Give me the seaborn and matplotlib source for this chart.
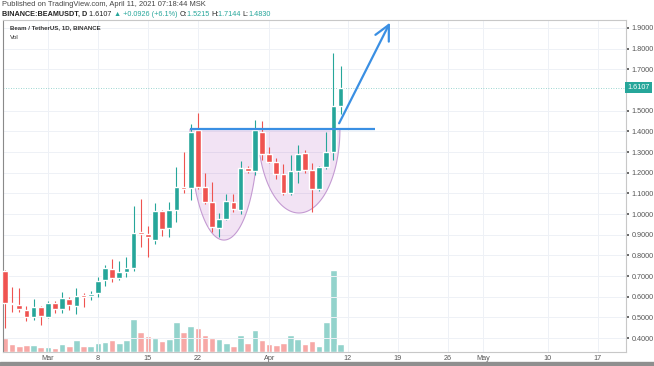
import matplotlib
matplotlib.use("Agg")
import matplotlib.pyplot as plt
import matplotlib.dates as mdates
from matplotlib.patches import Rectangle
from matplotlib.transforms import blended_transform_factory
import numpy as np
import pandas as pd
import seaborn as sns

# BEAM/USDT daily candles, 2021-02-23 .. 2021-04-11
dates = pd.date_range("2021-02-23", "2021-04-11", freq="D")
opens = [0.724, 0.565, 0.561, 0.534, 0.500, 0.549, 0.503, 0.571, 0.539, 0.590,
         0.555, 0.607, 0.603, 0.619, 0.681, 0.736, 0.690, 0.718, 0.737, 0.912,
         0.902, 0.874, 1.015, 0.931, 1.019, 1.132, 1.125, 1.407, 1.129, 1.060,
         0.934, 0.976, 1.060, 1.020, 1.221, 1.208, 1.398, 1.290, 1.253, 1.192,
         1.103, 1.210, 1.294, 1.213, 1.120, 1.226, 1.302, 1.5215]
highs = [0.730, 0.647, 0.642, 0.555, 0.589, 0.555, 0.581, 0.580, 0.624, 0.600,
         0.641, 0.620, 0.629, 0.697, 0.753, 0.782, 0.774, 0.794, 1.039, 1.071,
         0.940, 1.055, 1.020, 1.060, 1.229, 1.302, 1.436, 1.487, 1.197, 1.156,
         1.005, 1.095, 1.095, 1.257, 1.230, 1.455, 1.450, 1.326, 1.270, 1.240,
         1.286, 1.334, 1.310, 1.245, 1.230, 1.398, 1.778, 1.7144]
lows = [0.450, 0.528, 0.528, 0.484, 0.487, 0.463, 0.495, 0.520, 0.520, 0.536,
        0.516, 0.552, 0.584, 0.600, 0.652, 0.673, 0.681, 0.697, 0.726, 0.842,
        0.793, 0.853, 0.894, 0.890, 0.963, 1.100, 1.070, 1.120, 1.050, 0.915,
        0.887, 0.970, 1.010, 1.000, 1.200, 1.190, 1.261, 1.245, 1.170, 1.090,
        1.090, 1.149, 1.200, 1.011, 1.110, 1.220, 1.260, 1.4830]
closes = [0.570, 0.563, 0.541, 0.500, 0.549, 0.505, 0.568, 0.539, 0.592, 0.558,
          0.603, 0.600, 0.614, 0.677, 0.737, 0.690, 0.721, 0.740, 0.910, 0.903,
          0.889, 1.015, 0.926, 1.019, 1.132, 1.121, 1.398, 1.129, 1.060, 0.939,
          0.975, 1.063, 1.023, 1.223, 1.208, 1.407, 1.290, 1.253, 1.194, 1.103,
          1.210, 1.289, 1.213, 1.120, 1.226, 1.299, 1.521, 1.6107]
volume_m = [0.72, 0.42, 0.32, 0.37, 0.35, 0.25, 0.25, 0.20, 0.39, 0.32,
            0.62, 0.29, 0.32, 0.47, 0.50, 0.62, 0.45, 0.59, 1.67, 1.02,
            0.82, 0.70, 0.55, 0.64, 1.51, 0.98, 1.32, 1.18, 0.84, 0.72,
            0.64, 0.45, 0.29, 0.85, 0.45, 1.12, 0.59, 0.42, 0.35, 0.45,
            0.85, 0.64, 0.40, 0.57, 0.30, 1.50, 4.12, 0.42]

price_ticks = [0.4, 0.5, 0.6, 0.7, 0.8, 0.9, 1.0, 1.1, 1.2, 1.3, 1.4, 1.5, 1.7, 1.8, 1.9]
date_ticks = ["2021-03-01", "2021-03-08", "2021-03-15", "2021-03-22", "2021-04-01",
              "2021-04-12", "2021-04-19", "2021-04-26", "2021-05-01", "2021-05-10",
              "2021-05-17"]
date_tick_labels = ["Mar", "8", "15", "22", "Apr", "12", "19", "26", "May", "10", "17"]

last_price = 1.6107
neckline = 1.41
# cup drawings: (centre date, half width in days, depth in price)
cups = [("2021-03-25 16:00", 4.76, 0.536), ("2021-04-05 04:00", 5.74, 0.405)]
arrow_start = ("2021-04-10 19:00", 1.439)
arrow_tip = ("2021-04-17 22:00", 1.926)
neck_from, neck_to = "2021-03-20 22:00", "2021-04-15 19:00"

UP, DOWN = "#26a69a", "#ef5350"
BLUE = "#3a8fe3"

sns.set_theme(style="white")
plt.rcParams["font.family"] = ["Liberation Sans", "DejaVu Sans"]

W, H = 654, 366
fig = plt.figure(figsize=(W / 100, H / 100), dpi=100)
ax = fig.add_axes([3 / W, 14 / H, 623 / W, 332 / H])
ax2 = ax.twinx()

x = mdates.date2num(dates)
o, h, l, c = map(np.array, (opens, highs, lows, closes))
up = c >= o

# volume (behind)
vol_df = pd.DataFrame({"x": x, "volume": volume_m,
                       "dir": np.where(up, "up", "down")})
sns.barplot(data=vol_df, x="x", y="volume", hue="dir",
            palette={"up": "#93d3cc", "down": "#f7a8a6"}, native_scale=True,
            width=0.92, saturation=1, errorbar=None, legend=False, ax=ax2)
ax2.set_ylim(0, 16.6)
ax2.set_yticks([])
ax2.set_ylabel("")
ax2.set_xlabel("")
for s in ax2.spines.values():
    s.set_visible(False)

ax.set_zorder(ax2.get_zorder() + 1)
ax.patch.set_visible(False)

# grid
for p in price_ticks:
    ax.axhline(p, color="#eef1f6", lw=0.7, zorder=0)
tick_x = mdates.date2num(pd.to_datetime(date_ticks))
for t in tick_x:
    ax.axvline(t, color="#eef1f6", lw=0.7, zorder=0)

# cups
for centre, hw, depth in cups:
    cx = mdates.date2num(pd.Timestamp(centre))
    th = np.linspace(0, np.pi, 80)
    ex = cx + hw * np.cos(th)
    ey = neckline - depth * np.sin(th)
    ax.fill(ex, ey, facecolor="#9c27b0", alpha=0.13, zorder=1)
    ax.plot(ex, ey, color="#c49ad2", lw=0.8, zorder=1)

# candles
cols = np.where(up, UP, DOWN)
ax.vlines(x, l, h, colors=cols, lw=0.8, zorder=3)
body = np.maximum(np.abs(c - o), 0.005)
ax.bar(x, body, bottom=np.minimum(o, c), width=0.8, color=cols, zorder=4)

# last price
ax.axhline(last_price, color=UP, lw=0.6, ls=(0, (1, 2)), alpha=0.6, zorder=2)
trans = blended_transform_factory(ax.transAxes, ax.transData)
ax.text(1.002, last_price, "1.6107", transform=trans, ha="left", va="center",
        fontsize=5.2, color="white", clip_on=False,
        bbox=dict(boxstyle="square,pad=0.3", fc=UP, ec="none"))

# neckline and arrow
ax.hlines(neckline, mdates.date2num(pd.Timestamp(neck_from)),
          mdates.date2num(pd.Timestamp(neck_to)), color=BLUE, lw=1.6, zorder=5)
ax.annotate("", xy=(mdates.date2num(pd.Timestamp(arrow_tip[0])), arrow_tip[1]),
            xytext=(mdates.date2num(pd.Timestamp(arrow_start[0])), arrow_start[1]),
            arrowprops=dict(arrowstyle="->,head_length=0.9,head_width=0.45",
                            color=BLUE, lw=1.6, shrinkA=0, shrinkB=0), zorder=5)

# axes
ax.set_xlim(x[0] - 0.28, x[0] + 86.97)
ax.set_ylim(0.3325, 1.9387)
ax.yaxis.tick_right()
ax.set_yticks(price_ticks)
ax.set_yticklabels([f"{p:.4f}" for p in price_ticks])
ax.set_xticks(tick_x)
ax.set_xticklabels(date_tick_labels)
ax.tick_params(axis="y", labelsize=5.2, colors="#555555", length=2, pad=2,
               left=False, right=True)
ax.tick_params(axis="x", labelsize=5.2, colors="#555555", length=0, pad=2.5)
ax.set_xlabel("")
ax.set_ylabel("")
for name, s in ax.spines.items():
    s.set_color("#c8c8c8")
    s.set_linewidth(0.8)
ax.spines["left"].set_color("#8a8a8a")

# header texts
fig.text(2 / W, 1 - 5 / H, "Published on TradingView.com, April 11, 2021 07:18:44 MSK",
         fontsize=5.45, color="#444444", va="center")
t = fig.text(2 / W, 1 - 14.5 / H, "BINANCE:BEAMUSDT, D ", fontsize=5.2,
             color="#222222", va="center", weight="bold")
pieces = [("1.6107 ", "#222222"), ("▲ +0.0926 (+6.1%) ", UP), ("O:", "#222222"),
          ("1.5215 ", UP), ("H:", "#222222"), ("1.7144 ", UP), ("L:", "#222222"),
          ("1.4830", UP)]
for txt, col in pieces:
    t = ax.annotate(txt, xy=(1, 0.5), xycoords=t, va="center", ha="left",
                    fontsize=5.2, color=col, annotation_clip=False)
fig.text(10 / W, 1 - 28 / H, "Beam / TetherUS, 1D, BINANCE", fontsize=4.4,
         color="#333333", va="center", weight="bold")
fig.text(10 / W, 1 - 37.5 / H, "Vol", fontsize=4.6, color="#333333", va="center")

fig.patches.append(Rectangle((0, 0), 1, 4 / H, transform=fig.transFigure,
                             color="#8f8f8f", zorder=0))

fig.savefig("out.png", dpi=100, facecolor="white")
